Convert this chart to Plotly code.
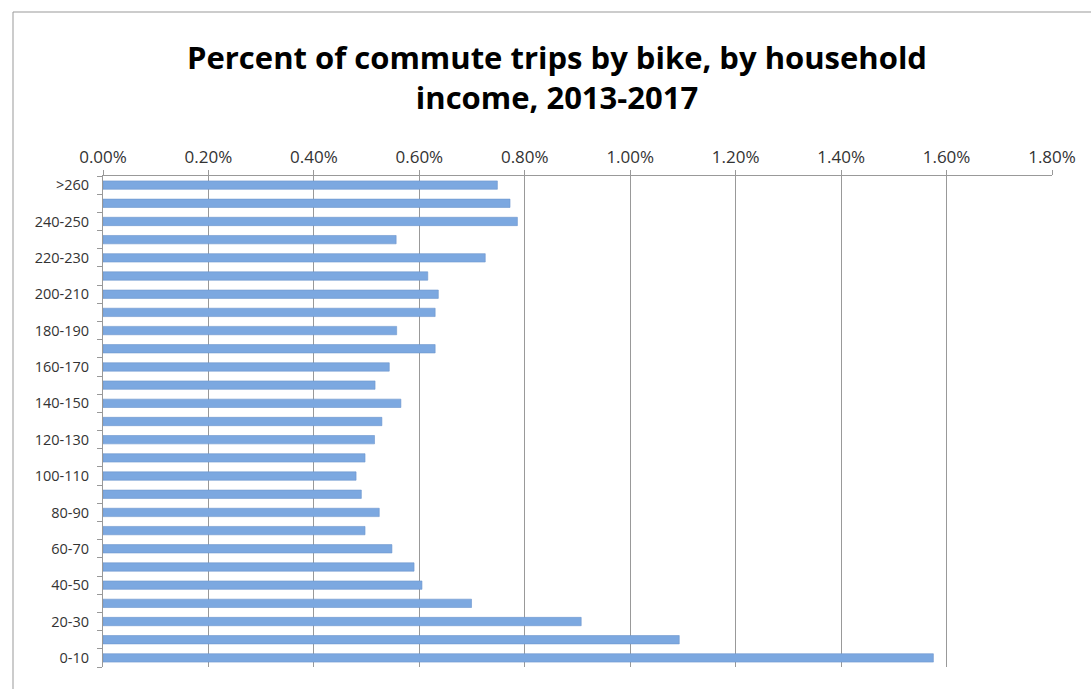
import plotly.graph_objects as go

# Household income brackets ($000s), bottom to top
brackets = [
    "0-10", "10-20", "20-30", "30-40", "40-50", "50-60", "60-70", "70-80",
    "80-90", "90-100", "100-110", "110-120", "120-130", "130-140", "140-150",
    "150-160", "160-170", "170-180", "180-190", "190-200", "200-210",
    "210-220", "220-230", "230-240", "240-250", "250-260", ">260",
]

# Share of commute trips made by bike, in percent
bike_share = [
    1.575, 1.093, 0.907, 0.699, 0.605, 0.590, 0.548, 0.497,
    0.524, 0.490, 0.480, 0.497, 0.515, 0.529, 0.565,
    0.516, 0.543, 0.630, 0.557, 0.630, 0.636,
    0.616, 0.725, 0.556, 0.786, 0.772, 0.748,
]

# Only every other bracket carries a label
bracket_labels = [b if i % 2 == 0 else "" for i, b in enumerate(brackets)]

x_ticks = [0.0, 0.2, 0.4, 0.6, 0.8, 1.0, 1.2, 1.4, 1.6, 1.8]

title_lines = ["Percent of commute trips by bike, by household", "income, 2013-2017"]

FONT = "Open Sans, sans-serif"
W, H = 1091, 689
M_L, M_R, M_T, M_B = 103, 39, 176, 22
plot_h = H - M_T - M_B
plot_w = W - M_L - M_R


def paper_y(px):
    """Convert a pixel row (from the top of the page) to paper y."""
    return (H - M_B - px) / plot_h


def paper_x(px):
    return (px - M_L) / plot_w


fig = go.Figure(
    go.Bar(
        x=bike_share,
        y=brackets,
        orientation="h",
        width=0.46,
        marker=dict(color="#7ca8e0", line=dict(color="#6b95cd", width=0.6)),
        hovertemplate="%{y}: %{x:.2f}%<extra></extra>",
    )
)

fig.update_layout(
    width=W,
    height=H,
    margin=dict(l=M_L, r=M_R, t=M_T, b=M_B),
    paper_bgcolor="white",
    plot_bgcolor="white",
    font=dict(family=FONT, color="#222"),
    showlegend=False,
    title=dict(
        text="<b>" + "<br>".join(title_lines) + "</b>",
        xref="paper",
        x=paper_x(557),
        xanchor="center",
        yref="container",
        y=1 - 69 / H,
        yanchor="middle",
        font=dict(family=FONT, size=31, color="#000"),
    ),
)

fig.update_xaxes(
    side="top",
    range=[0, 1.8],
    tickvals=x_ticks,
    ticktext=[f"{v:.2f}%" for v in x_ticks],
    tickfont=dict(size=17, color="#333"),
    showgrid=True,
    gridcolor="#999",
    gridwidth=1,
    showline=True,
    linecolor="#999",
    ticks="outside",
    ticklen=5,
    tickcolor="#999",
    zeroline=False,
    fixedrange=True,
)

fig.update_yaxes(
    type="category",
    categoryorder="array",
    categoryarray=brackets,
    tickvals=brackets,
    ticktext=bracket_labels,
    tickson="boundaries",
    ticks="outside",
    ticklen=5,
    tickcolor="#999",
    ticklabelstandoff=10,
    tickfont=dict(size=14.5, color="#333"),
    showline=True,
    linecolor="#999",
    showgrid=False,
    fixedrange=True,
)

# Chart frame
fig.add_shape(
    type="rect",
    xref="paper", yref="paper",
    x0=paper_x(13), x1=1.2,
    y0=-0.2, y1=paper_y(12),
    line=dict(color="#999", width=1),
    fillcolor="rgba(0,0,0,0)",
    layer="below",
)

fig.write_html("out.html")
